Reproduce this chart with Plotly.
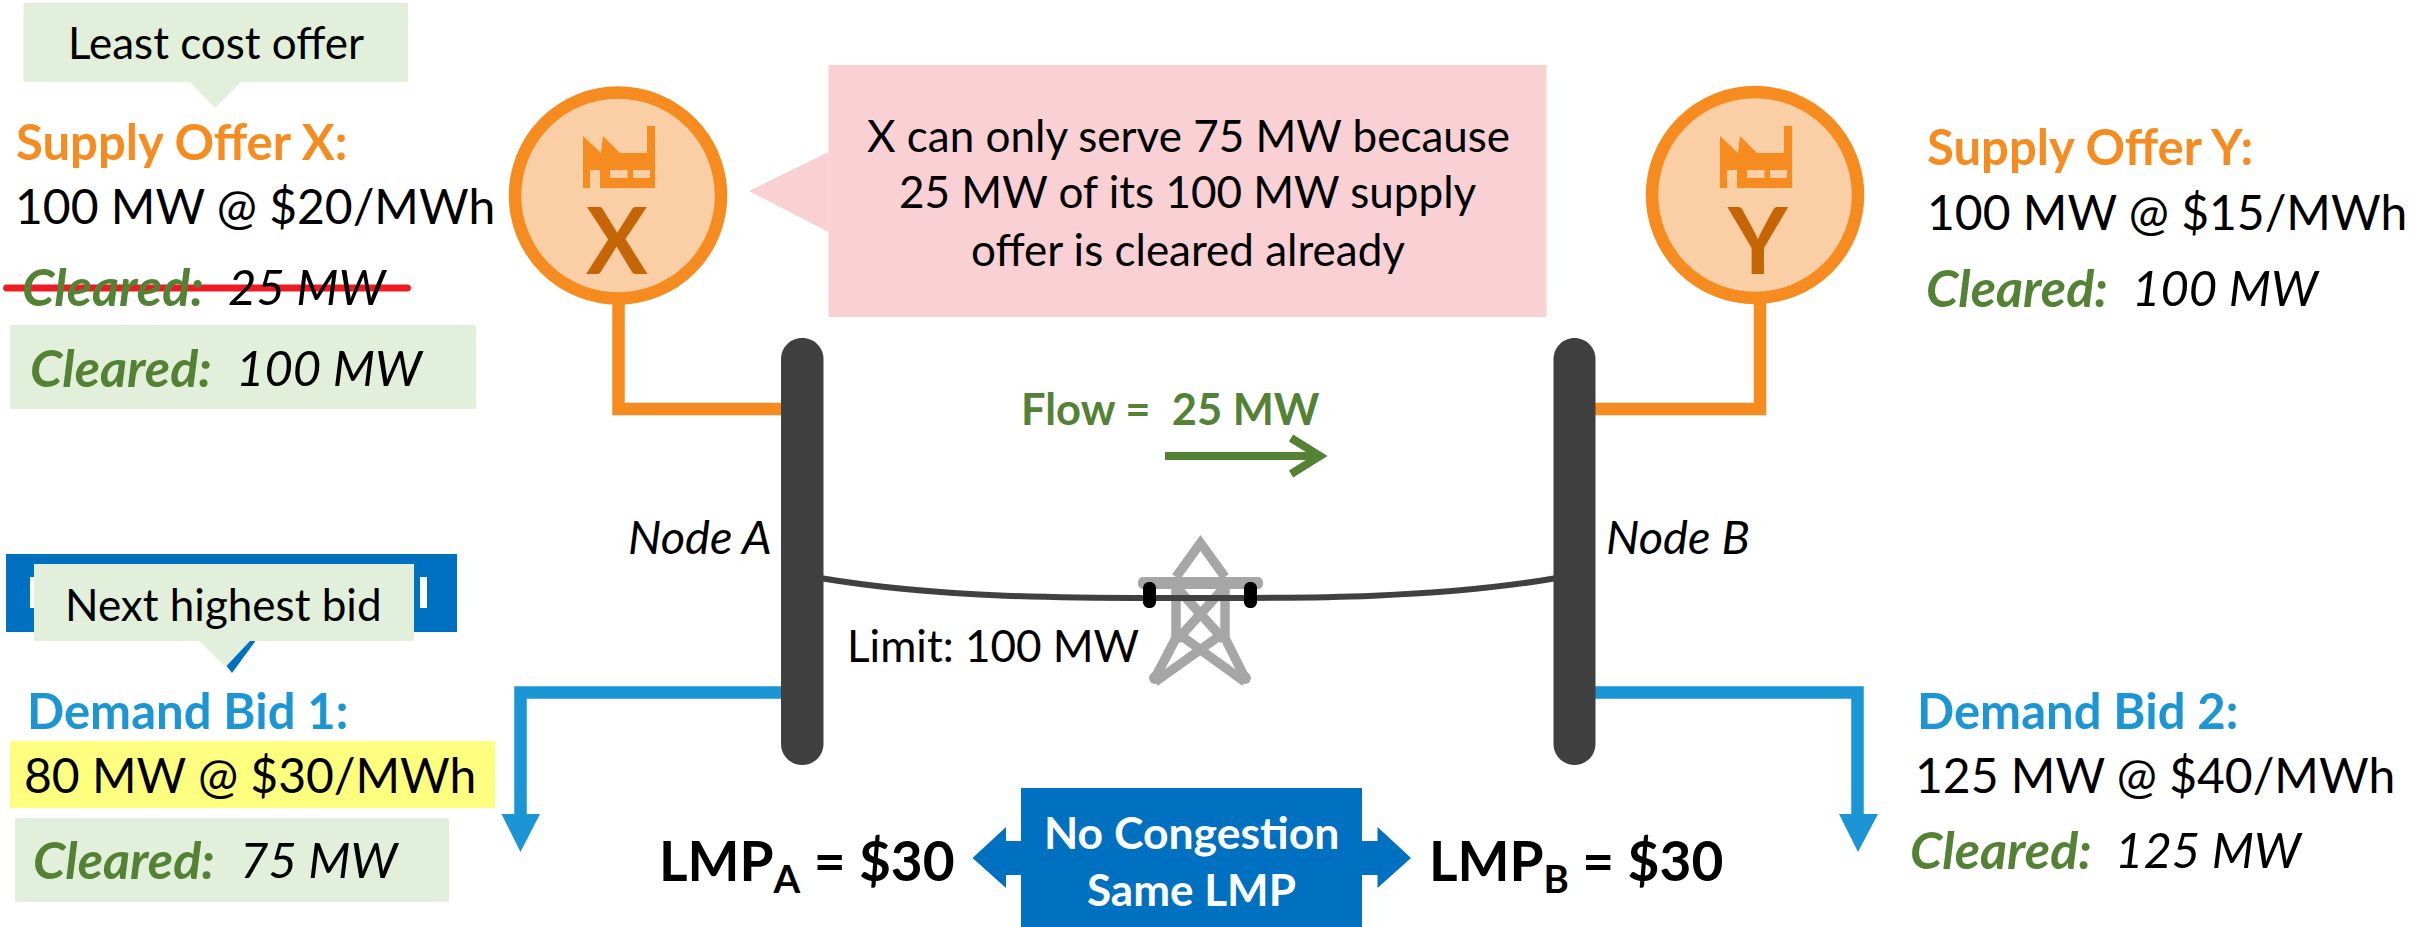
import plotly.graph_objects as go

# ---- chart content ----
supply_names = ["Supply Offer X:", "Supply Offer Y:"]
supply_mw = [100, 100]
supply_price = [20, 15]
supply_old_cleared = [25]
supply_cleared = [100, 100]
demand_names = ["Demand Bid 1:", "Demand Bid 2:"]
demand_mw = [80, 125]
demand_price = [30, 40]
demand_cleared = [75, 125]
lmp_values = [30, 30]
node_labels = ["Node A", "Node B"]
generator_letters = ["X", "Y"]
flow_mw = 25
limit_mw = 100
cleared_label = "Cleared:"
callout_top = "Least cost offer"
callout_bid = "Next highest bid"
pink_lines = ["X can only serve 75 MW because", "25 MW of its 100 MW supply", "offer is cleared already"]
center_lines = ["No Congestion", "Same LMP"]

# ---- colours ----
ORANGE, ORANGE_LT, ORANGE_DK = "#F68B1F", "#FBCFA5", "#C66505"
BLUE, DEEP = "#1B95D4", "#0070C0"
GREEN, GREEN_LT = "#548235", "#E2EFDA"
DARK, GRAY, RED, PINK, YELLOW = "#404040", "#A6A6A6", "#ED1C24", "#F9D0D3", "#FFFF7F"
FONT = "Lato"

W, H = 2433, 927
shapes, notes = [], []


def poly(pts, fill):
    d = "M " + " L ".join(f"{x} {y}" for x, y in pts) + " Z"
    shapes.append(dict(type="path", path=d, fillcolor=fill, line=dict(width=0)))


def rect(x0, y0, x1, y1, fill):
    shapes.append(dict(type="rect", x0=x0, y0=y0, x1=x1, y1=y1, fillcolor=fill, line=dict(width=0)))


def stroke(d, color, width):
    shapes.append(dict(type="path", path=d, line=dict(color=color, width=width), fillcolor="rgba(0,0,0,0)"))


def capsule(x0, y0, x1, y1, r, fill):
    k = r * 0.45
    d = (f"M {x0+r} {y0} L {x1-r} {y0} C {x1-k} {y0} {x1} {y0+k} {x1} {y0+r} "
         f"L {x1} {y1-r} C {x1} {y1-k} {x1-k} {y1} {x1-r} {y1} "
         f"L {x0+r} {y1} C {x0+k} {y1} {x0} {y1-k} {x0} {y1-r} "
         f"L {x0} {y0+r} C {x0} {y0+k} {x0+k} {y0} {x0+r} {y0} Z")
    shapes.append(dict(type="path", path=d, fillcolor=fill, line=dict(width=0)))


def text(x, y, s, size, color="#000000"):
    notes.append(dict(x=x, y=y, text=s, showarrow=False, xanchor="center", yanchor="middle",
                      align="center", font=dict(family=FONT, size=size, color=color)))


def cleared(x_label, x_value, y, v):
    text(x_label, y, f"<b><i>{cleared_label}</i></b>", 52, GREEN)
    text(x_value, y, f"<i>{v} MW</i>", 49)


def bold(s):
    return f"<b>{s}</b>"


# callouts, top left
rect(23.5, 3, 408, 82, GREEN_LT)
poly([(190, 82), (241, 82), (215, 108)], GREEN_LT)
text(216, 42, callout_top, 44)

# green highlight under supply X
rect(10, 325, 476, 409, GREEN_LT)

# blue box hidden behind the bid callout
rect(6, 554, 457, 632, DEEP)
poly([(200, 632), (262, 632), (232, 673)], DEEP)
rect(30, 577, 34, 608, "#FFFFFF")
rect(420, 577, 427, 608, "#FFFFFF")
rect(34, 564, 414, 641, GREEN_LT)
poly([(199, 641), (250, 641), (225.5, 667)], GREEN_LT)
text(223, 604, callout_bid, 44)

# highlights under demand 1
rect(10, 741, 495, 808, YELLOW)
rect(15, 818, 449, 902, GREEN_LT)

# pink callout
rect(828.5, 65, 1546.5, 317, PINK)
poly([(828.5, 152), (828.5, 232), (749, 191)], PINK)

# connectors
stroke("M 618.5 300 L 618.5 409 L 790 409", ORANGE, 12.5)
stroke("M 1760 300 L 1760 409 L 1590 409", ORANGE, 12.5)
stroke("M 790 692.5 L 520.5 692.5 L 520.5 816", BLUE, 12.5)
stroke("M 1590 692.5 L 1857.5 692.5 L 1857.5 816", BLUE, 12.5)
poly([(501.5, 814), (540, 814), (520.5, 852)], BLUE)
poly([(1839, 814), (1878, 814), (1858, 852)], BLUE)

# generators
for cx, cy, letter, lx in [(618, 195.5, generator_letters[0], 617), (1755, 195, generator_letters[1], 1758)]:
    r = 103
    shapes.append(dict(type="circle", x0=cx - r, x1=cx + r, y0=cy - r, y1=cy + r,
                       fillcolor=ORANGE_LT, line=dict(color=ORANGE, width=12.5)))
    ox = cx - 618
    poly([(583 + ox, 136), (601 + ox, 153), (603 + ox, 136), (620 + ox, 153), (647 + ox, 153), (647 + ox, 126),
          (655 + ox, 126), (655 + ox, 188), (600 + ox, 188), (600 + ox, 170), (590 + ox, 170), (590 + ox, 188),
          (583 + ox, 188)], ORANGE)
    rect(610 + ox, 170, 627.5 + ox, 178, ORANGE_LT)
    rect(633 + ox, 170, 650 + ox, 178, ORANGE_LT)
    text(lx, 238, bold(letter), 92, ORANGE_DK)

# tower then line
TW = 9.5
for d in ["M 1176 577 L 1200.5 543 L 1225 577",
          "M 1176 577 L 1176 638 L 1155 678",
          "M 1225 577 L 1225 638 L 1245 678",
          "M 1178 589 L 1224 640",
          "M 1223 589 L 1177 640",
          "M 1176 632 L 1245 682",
          "M 1225 632 L 1155 682"]:
    stroke(d, GRAY, TW)
for fx in (1155, 1245):
    shapes.append(dict(type="circle", x0=fx - 6, x1=fx + 6, y0=672, y1=684, fillcolor=GRAY, line=dict(width=0)))
capsule(1138, 577, 1263, 589, 5, GRAY)
stroke("M 820 578 C 950 600 1100 598 1188 598 C 1280 598 1430 600 1557 578", DARK, 6)
capsule(1143, 582, 1156, 608, 6, "#000000")
capsule(1244, 582, 1257, 608, 6, "#000000")

# buses
capsule(781, 338, 823.5, 765, 21, DARK)
capsule(1553.5, 338, 1595.5, 765, 21, DARK)

# flow arrow
stroke("M 1165 456 L 1320 456", GREEN, 8)
stroke("M 1291 438 L 1320 456 L 1291 474", GREEN, 8)

# centre double arrow
rect(1021, 788, 1362, 927, DEEP)
poly([(972.5, 858), (1006, 827), (1006, 841), (1021, 841), (1021, 875), (1006, 875), (1006, 888)], DEEP)
poly([(1411, 858), (1377.5, 827), (1377.5, 841), (1362, 841), (1362, 875), (1377.5, 875), (1377.5, 888)], DEEP)

# ---- text ----
text(181, 141, bold(supply_names[0]), 49, ORANGE)
text(255, 205, f"{supply_mw[0]} MW @ ${supply_price[0]}/MWh", 48)
cleared(113, 308, 286, supply_old_cleared[0])
cleared(121, 330, 367, supply_cleared[0])
capsule(3, 284.5, 411, 291.5, 3.5, RED)

text(2090, 146, bold(supply_names[1]), 49, ORANGE)
text(2167, 211, f"{supply_mw[1]} MW @ ${supply_price[1]}/MWh", 48)
cleared(2017, 2226, 287, supply_cleared[1])

text(187, 710, bold(demand_names[0]), 49, BLUE)
text(250, 774, f"{demand_mw[0]} MW @ ${demand_price[0]}/MWh", 48)
cleared(124, 320, 859, demand_cleared[0])

text(2077, 710, bold(demand_names[1]), 49, BLUE)
text(2155, 774, f"{demand_mw[1]} MW @ ${demand_price[1]}/MWh", 48)
cleared(2001, 2209, 849, demand_cleared[1])

text(700, 536, f"<i>{node_labels[0]}</i>", 47)
text(1678, 536, f"<i>{node_labels[1]}</i>", 47)

for s, y in zip(pink_lines, [135, 191, 249]):
    text(1188, y, s, 44)

text(1170, 408, f'<b>Flow =\u00a0\u00a0{flow_mw} MW</b>', 43.5, GREEN)
text(993, 645, f"Limit: {limit_mw} MW", 44)

text(807, 864, bold(f"LMP<sub>A</sub> = ${lmp_values[0]}"), 55)
text(1576, 864, bold(f"LMP<sub>B</sub> = ${lmp_values[1]}"), 55)
text(1191, 831, bold(center_lines[0]), 44.5, "#FFFFFF")
text(1191, 889, bold(center_lines[1]), 44, "#FFFFFF")

fig = go.Figure()
fig.update_layout(
    width=W, height=H, margin=dict(l=0, r=0, t=0, b=0),
    paper_bgcolor="white", plot_bgcolor="white", showlegend=False,
    xaxis=dict(range=[0, W], visible=False, fixedrange=True),
    yaxis=dict(range=[H, 0], visible=False, fixedrange=True),
    shapes=shapes, annotations=notes,
)
fig.write_html("out.html", config=dict(displayModeBar=False),
               post_script="document.body.style.margin='0';document.body.style.overflow='hidden';")
